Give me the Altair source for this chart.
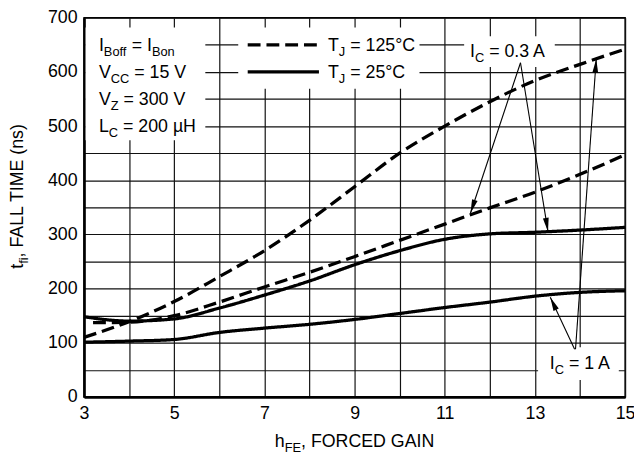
import math
import altair as alt
import pandas as pd

# ---------------- data ----------------
HFE = [3, 4, 5, 6, 7, 8, 9, 10, 11, 12, 13, 14, 15]
T125_1A = [110, 139, 176, 222, 270, 326, 388, 450, 500, 545, 584, 614, 642]
T125_03A_X = [3.2, 4, 5, 6, 7, 8, 9, 10, 11, 12, 13, 14, 15]
T125_03A = [137, 138, 150, 175, 203, 230, 259, 289, 319, 349, 378, 411, 447]
T25_03A = [148, 140, 144, 164, 188, 214, 244, 270, 291, 301, 304, 308, 313]
T25_1A = [101, 103, 106, 119, 127, 134, 143, 154, 165, 175, 186, 193, 196]

X_TICKS = list(range(3, 16))
Y_TICKS = list(range(0, 701, 50))

# annotation anchors (data units)
BOXES = [  # x, x2, y, y2  (white backgrounds behind labels)
    (3.035, 5.69, 474, 682),
    (6.42, 10.44, 569, 682),
    (11.43, 13.44, 609, 666),
    (13.07, 14.86, 31, 91.7),
]
LEG_SAMPLES = [(6.63, 8.21, 650, "dash"), (6.63, 8.21, 600, "solid")]
ARROWS = [  # x1, y1, x2(tip), y2(tip)
    (12.68, 617, 11.57, 339),
    (12.68, 617, 13.29, 305),
    (13.88, 88, 13.34, 184),
    (13.90, 88, 14.36, 624),
]
LABELS = [  # segments (text, subscript?), anchor x, anchor y (cap centre), align, angle
    ([("I", 0), ("Boff", 1), (" = I", 0), ("Bon", 1)], 3.33, 650, "left", 0),
    ([("V", 0), ("CC", 1), (" = 15 V", 0)], 3.33, 600, "left", 0),
    ([("V", 0), ("Z", 1), (" = 300 V", 0)], 3.33, 550, "left", 0),
    ([("L", 0), ("C", 1), (" = 200 µH", 0)], 3.33, 500, "left", 0),
    ([("T", 0), ("J", 1), (" = 125°C", 0)], 8.41, 650, "left", 0),
    ([("T", 0), ("J", 1), (" = 25°C", 0)], 8.41, 600, "left", 0),
    ([("I", 0), ("C", 1), (" = 0.3 A", 0)], 11.56, 640, "left", 0),
    ([("I", 0), ("C", 1), (" = 1 A", 0)], 13.33, 64, "left", 0),
    ([("h", 0), ("FE", 1), (", FORCED GAIN", 0)], 9.0, -81.0, "center", 0),
    ([("t", 0), ("fi", 1), (", FALL TIME (ns)", 0)], 1.504, 372, "center", 270),
]

# ---------------- layout ----------------
W, H = 548, 384
PXX = W / 12.0
PXY = H / 700.0
FONT = "Liberation Sans, Arial, Helvetica, sans-serif"
FS, FSS = 18, 13
SUB_DROP = 5

AW = {'I': 278, 'B': 667, 'o': 556, 'f': 278, '=': 584, 'n': 556, 'V': 667, 'C': 722,
      '1': 556, '5': 556, 'Z': 611, '3': 556, '0': 556, 'L': 556, '2': 556, 'µ': 577,
      'H': 722, 'T': 611, 'J': 500, '°': 400, '.': 278, 'A': 667, 'h': 556, 'F': 611,
      'E': 667, ',': 278, 'O': 778, 'R': 722, 'D': 722, 'G': 778, 'N': 722, 't': 278,
      'i': 222, '(': 333, ')': 333, 's': 500, 'M': 833, ' ': 278}


def tw(s, size):
    return sum(AW.get(c, 556) for c in s) * size / 1000.0


rows = []
for segs, x0, y0, align, ang in LABELS:
    total = sum(tw(t, FSS if sub else FS) for t, sub in segs)
    pos = -total / 2 if align == "center" else 0.0
    for t, sub in segs:
        size = FSS if sub else FS
        lead = len(t) - len(t.lstrip(" "))
        txt = t.strip(" ")
        off = pos + tw(" " * lead, size)
        base = FS * 0.716 / 2 + (SUB_DROP if sub else 0)
        if ang == 0:
            xd = x0 + off / PXX
            yd = y0 - base / PXY
        else:
            xd = x0 + base / PXX
            yd = y0 + off / PXY
        rows.append({"x": xd, "y": yd, "text": txt, "size": size, "angle": ang})
        pos += tw(t, size)
text_df = pd.DataFrame(rows)

lines = []
for name, xs, ys, dash in [
    ("125°C 1 A", HFE, T125_1A, "dash"),
    ("125°C 0.3 A", T125_03A_X, T125_03A, "dash"),
    ("25°C 0.3 A", HFE, T25_03A, "solid"),
    ("25°C 1 A", HFE, T25_1A, "solid"),
]:
    for i, (a, b) in enumerate(zip(xs, ys)):
        lines.append({"series": name, "x": a, "y": b, "dash": dash, "order": i})
line_df = pd.DataFrame(lines)

box_df = pd.DataFrame([{"x": a, "x2": b, "y": c, "y2": d} for a, b, c, d in BOXES])
samp_df = pd.DataFrame([{"x": a, "x2": b, "y": c, "dash": d} for a, b, c, d in LEG_SAMPLES])

arr_rows, head_rows = [], []
HEAD_R = 7.0
for x1, y1, x2, y2 in ARROWS:
    dxp = (x2 - x1) * PXX
    dyp = -(y2 - y1) * PXY
    L = math.hypot(dxp, dyp)
    ux, uy = dxp / L, dyp / L
    ang = math.degrees(math.atan2(ux, -uy)) % 360
    arr_rows.append({"x": x1, "y": y1, "x2": x2, "y2": y2})
    head_rows.append({"x": x2 - ux * HEAD_R / PXX, "y": y2 + uy * HEAD_R / PXY, "angle": ang})
arr_df = pd.DataFrame(arr_rows)
head_df = pd.DataFrame(head_rows)

# ---------------- encodings ----------------
XS = alt.Scale(domain=[3, 15], nice=False, zero=False)
YS = alt.Scale(domain=[0, 700], nice=False)
XAX = alt.Axis(values=X_TICKS, labelExpr="datum.value % 2 == 1 ? datum.label : ''",
               title=None, ticks=False, labelPadding=8, labelOverlap=False, labelFlush=False)
YAX = alt.Axis(values=Y_TICKS, labelExpr="datum.value % 100 == 0 ? datum.label : ''",
               title=None, ticks=False, labelPadding=7, labelOverlap=False, labelFlush=False)


def X(f="x"):
    return alt.X(f"{f}:Q", scale=XS, axis=XAX)


def Y(f="y"):
    return alt.Y(f"{f}:Q", scale=YS, axis=YAX)


DASH = alt.StrokeDash("dash:N", scale=alt.Scale(domain=["dash", "solid"], range=[[13, 6], [1, 0]]),
                      legend=None)

boxes = alt.Chart(box_df).mark_rect(color="white", opacity=1).encode(
    x=X(), x2="x2:Q", y=Y(), y2="y2:Q")

curves = alt.Chart(line_df).mark_line(color="black", strokeWidth=3.3, interpolate="monotone",
                                      strokeCap="butt").encode(
    x=X(), y=Y(), detail="series:N", order="order:Q", strokeDash=DASH)

samples = alt.Chart(samp_df).mark_rule(color="black", strokeWidth=3.3).encode(
    x=X(), x2="x2:Q", y=Y(), strokeDash=DASH)

arrows = alt.Chart(arr_df).mark_rule(color="black", strokeWidth=1.1).encode(
    x=X(), x2="x2:Q", y=Y(), y2="y2:Q")

heads = alt.Chart(head_df).mark_point(shape="M0,-1L-0.42,1L0.42,1Z", size=(2 * HEAD_R) ** 2,
                                      filled=True, color="black", opacity=1,
                                      strokeWidth=0).encode(
    x=X(), y=Y(), angle=alt.Angle("angle:Q", scale=None))

texts = alt.Chart(text_df).mark_text(align="left", baseline="alphabetic", color="black",
                                     font=FONT).encode(
    x=X(), y=Y(), text="text:N", size=alt.Size("size:Q", scale=None),
    angle=alt.Angle("angle:Q", scale=None))

chart = alt.layer(boxes, curves, samples, arrows, heads, texts).properties(
    width=W, height=H,
    autosize=alt.AutoSizeParams(type="none"),
    padding={"left": 77, "top": 7, "right": 9, "bottom": 60},
    background="white",
).configure_view(stroke="black", strokeWidth=1.5).configure_axis(
    grid=True, gridColor="#111111", gridWidth=1.2, gridOpacity=1,
    domainColor="black", domainWidth=2.6,
    labelFont=FONT, labelFontSize=18, labelColor="black",
)

chart.save("out.html", embed_options={"renderer": "svg", "actions": False})
